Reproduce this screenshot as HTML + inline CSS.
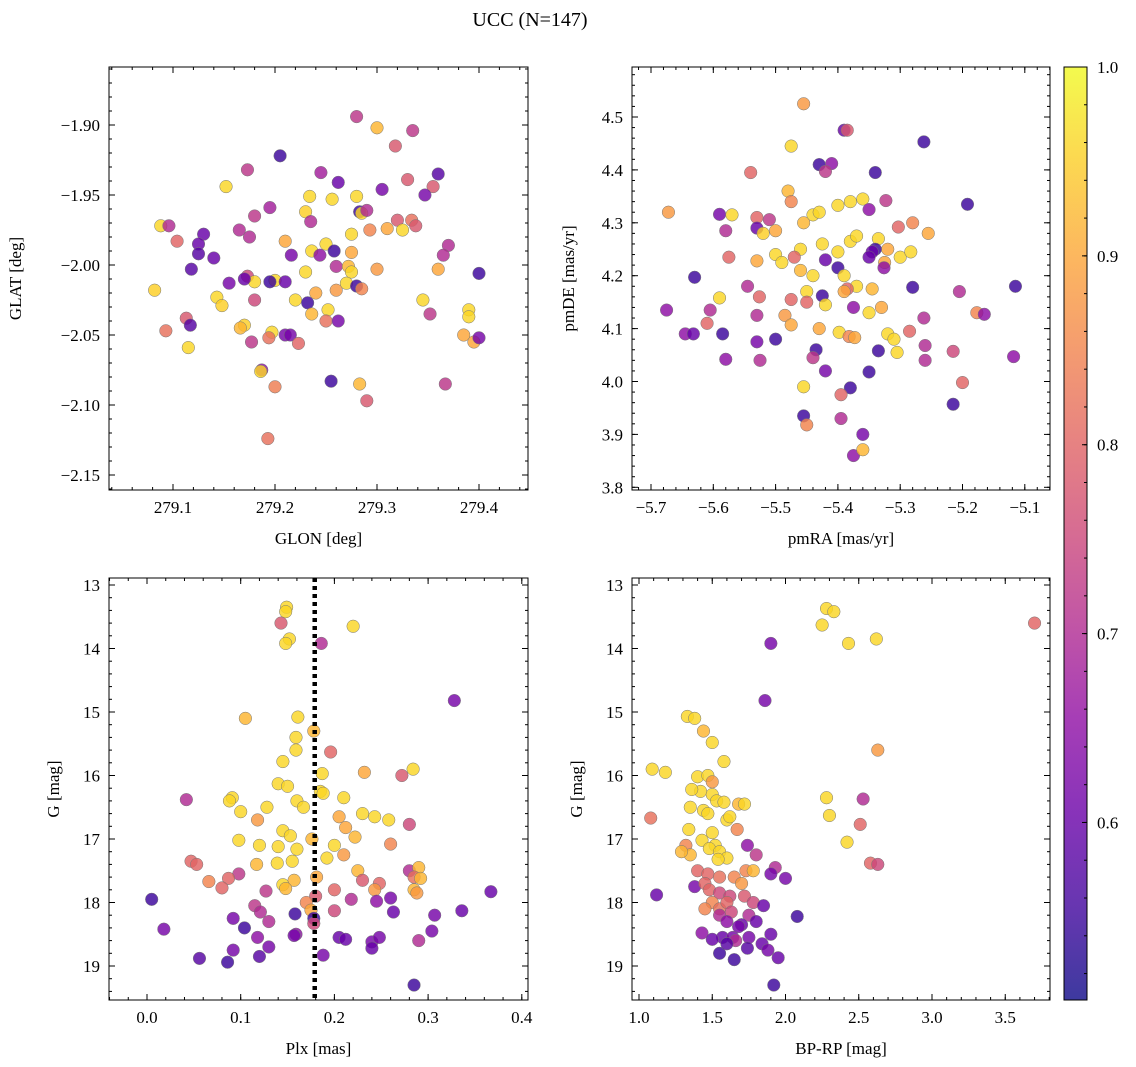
<!DOCTYPE html>
<html><head><meta charset="utf-8"><style>
body{margin:0;background:#fff}
svg{display:block;font-family:"Liberation Serif","DejaVu Serif",serif}
</style></head><body>
<svg id="fig" width="1136" height="1067" xmlns="http://www.w3.org/2000/svg">
<text x="530" y="26" text-anchor="middle" font-size="20">UCC (N=147)</text>
</svg>
<script>
// ---- data arrays: [x, y, membership probability] ----
const glonGlat = [[279.28,-1.894,.72],[279.30,-1.902,.92],[279.335,-1.904,.72],[279.205,-1.922,.55],[279.173,-1.932,.72],[279.318,-1.915,.78],[279.36,-1.935,.58],[279.245,-1.934,.68],[279.33,-1.939,.78],[279.355,-1.944,.78],[279.347,-1.950,.62],[279.305,-1.946,.62],[279.262,-1.941,.6],[279.152,-1.944,.96],[279.234,-1.951,.96],[279.256,-1.953,.96],[279.28,-1.951,.96],[279.23,-1.962,.95],[279.195,-1.959,.68],[279.283,-1.962,.55],[279.285,-1.963,.96],[279.29,-1.961,.7],[279.235,-1.969,.7],[279.18,-1.965,.72],[279.088,-1.972,.96],[279.096,-1.972,.7],[279.32,-1.968,.78],[279.334,-1.968,.82],[279.338,-1.972,.78],[279.325,-1.975,.96],[279.31,-1.974,.9],[279.293,-1.975,.85],[279.275,-1.978,.96],[279.165,-1.975,.7],[279.13,-1.978,.6],[279.104,-1.983,.8],[279.125,-1.985,.6],[279.175,-1.98,.7],[279.21,-1.983,.9],[279.25,-1.985,.96],[279.275,-1.991,.9],[279.258,-1.99,.55],[279.236,-1.99,.96],[279.244,-1.993,.65],[279.216,-1.993,.62],[279.14,-1.995,.6],[279.125,-1.992,.58],[279.37,-1.986,.7],[279.365,-1.993,.7],[279.173,-2.008,.75],[279.18,-2.012,.96],[279.2,-2.011,.96],[279.21,-2.012,.6],[279.23,-2.005,.96],[279.26,-2.001,.7],[279.272,-2.001,.92],[279.275,-2.005,.96],[279.3,-2.003,.88],[279.36,-2.003,.9],[279.4,-2.006,.55],[279.118,-2.003,.58],[279.155,-2.013,.62],[279.17,-2.01,.6],[279.195,-2.012,.55],[279.24,-2.02,.9],[279.26,-2.018,.88],[279.27,-2.013,.96],[279.28,-2.015,.55],[279.285,-2.017,.85],[279.143,-2.023,.96],[279.18,-2.025,.75],[279.22,-2.025,.96],[279.232,-2.027,.55],[279.252,-2.032,.96],[279.236,-2.035,.92],[279.25,-2.04,.82],[279.262,-2.04,.62],[279.148,-2.029,.95],[279.082,-2.018,.95],[279.113,-2.038,.78],[279.117,-2.043,.58],[279.17,-2.043,.95],[279.166,-2.045,.92],[279.197,-2.048,.96],[279.21,-2.05,.62],[279.215,-2.05,.62],[279.194,-2.052,.82],[279.223,-2.056,.8],[279.345,-2.025,.96],[279.352,-2.035,.72],[279.39,-2.032,.96],[279.39,-2.037,.96],[279.385,-2.05,.9],[279.395,-2.055,.9],[279.4,-2.052,.62],[279.093,-2.047,.82],[279.115,-2.059,.96],[279.177,-2.055,.72],[279.187,-2.075,.65],[279.186,-2.076,.96],[279.255,-2.083,.55],[279.283,-2.085,.92],[279.367,-2.085,.72],[279.2,-2.087,.84],[279.29,-2.097,.78],[279.193,-2.124,.82]];
const pmraPmde = [[-5.455,4.525,.88],[-5.39,4.475,.6],[-5.385,4.475,.78],[-5.262,4.453,.55],[-5.475,4.445,.96],[-5.43,4.41,.55],[-5.41,4.412,.65],[-5.42,4.397,.72],[-5.34,4.395,.55],[-5.54,4.395,.8],[-5.48,4.36,.92],[-5.475,4.34,.85],[-5.38,4.34,.96],[-5.36,4.345,.96],[-5.323,4.342,.72],[-5.192,4.335,.55],[-5.40,4.333,.96],[-5.672,4.32,.88],[-5.59,4.316,.62],[-5.57,4.315,.96],[-5.53,4.31,.8],[-5.51,4.306,.72],[-5.44,4.315,.96],[-5.43,4.32,.96],[-5.35,4.325,.65],[-5.28,4.30,.85],[-5.50,4.285,.9],[-5.455,4.3,.92],[-5.53,4.29,.6],[-5.58,4.285,.7],[-5.52,4.28,.95],[-5.255,4.28,.9],[-5.303,4.292,.8],[-5.335,4.27,.96],[-5.32,4.25,.9],[-5.34,4.25,.55],[-5.345,4.245,.6],[-5.38,4.265,.96],[-5.37,4.275,.96],[-5.425,4.26,.96],[-5.46,4.25,.96],[-5.50,4.24,.96],[-5.49,4.225,.96],[-5.40,4.245,.96],[-5.35,4.235,.6],[-5.30,4.235,.96],[-5.283,4.245,.96],[-5.325,4.225,.9],[-5.326,4.215,.65],[-5.575,4.235,.8],[-5.53,4.228,.9],[-5.63,4.197,.55],[-5.40,4.215,.55],[-5.39,4.2,.96],[-5.42,4.23,.6],[-5.44,4.2,.96],[-5.46,4.21,.92],[-5.47,4.235,.8],[-5.37,4.18,.96],[-5.385,4.175,.8],[-5.45,4.17,.96],[-5.45,4.15,.8],[-5.475,4.155,.8],[-5.545,4.18,.7],[-5.526,4.16,.8],[-5.59,4.158,.96],[-5.425,4.162,.55],[-5.39,4.17,.9],[-5.345,4.175,.92],[-5.28,4.178,.55],[-5.205,4.17,.7],[-5.375,4.14,.65],[-5.35,4.13,.96],[-5.33,4.14,.9],[-5.42,4.145,.96],[-5.485,4.125,.88],[-5.53,4.125,.7],[-5.605,4.135,.7],[-5.675,4.135,.65],[-5.61,4.11,.8],[-5.475,4.107,.9],[-5.43,4.10,.9],[-5.398,4.093,.96],[-5.382,4.085,.85],[-5.373,4.083,.9],[-5.32,4.09,.96],[-5.31,4.08,.96],[-5.285,4.095,.8],[-5.262,4.12,.7],[-5.177,4.13,.85],[-5.165,4.127,.65],[-5.115,4.18,.55],[-5.645,4.09,.65],[-5.632,4.09,.6],[-5.585,4.09,.55],[-5.53,4.075,.62],[-5.5,4.08,.55],[-5.58,4.042,.65],[-5.525,4.04,.7],[-5.435,4.06,.55],[-5.44,4.045,.72],[-5.335,4.058,.55],[-5.305,4.055,.96],[-5.26,4.068,.7],[-5.26,4.04,.7],[-5.215,4.057,.75],[-5.118,4.047,.65],[-5.42,4.02,.62],[-5.35,4.018,.55],[-5.455,3.99,.96],[-5.38,3.988,.55],[-5.395,3.975,.8],[-5.2,3.998,.8],[-5.215,3.957,.55],[-5.455,3.935,.55],[-5.395,3.93,.7],[-5.45,3.918,.85],[-5.36,3.9,.62],[-5.375,3.86,.65],[-5.36,3.871,.92]];
const plxG = [[0.149,13.35,.96],[0.148,13.42,.96],[0.143,13.6,.78],[0.22,13.65,.96],[0.152,13.85,.96],[0.148,13.92,.96],[0.186,13.92,.7],[0.328,14.82,.62],[0.105,15.1,.92],[0.161,15.08,.96],[0.159,15.4,.96],[0.178,15.3,.92],[0.159,15.6,.96],[0.196,15.63,.8],[0.145,15.78,.96],[0.187,15.97,.96],[0.232,15.95,.9],[0.284,15.9,.96],[0.272,16.0,.78],[0.042,16.38,.7],[0.091,16.35,.96],[0.088,16.4,.96],[0.14,16.13,.96],[0.15,16.17,.96],[0.185,16.25,.96],[0.188,16.28,.96],[0.21,16.35,.96],[0.16,16.4,.96],[0.167,16.5,.96],[0.128,16.5,.96],[0.1,16.57,.96],[0.243,16.65,.96],[0.258,16.7,.96],[0.23,16.6,.96],[0.205,16.65,.9],[0.28,16.77,.75],[0.118,16.7,.88],[0.145,16.87,.96],[0.212,16.82,.9],[0.153,16.95,.96],[0.222,16.97,.92],[0.26,17.08,.85],[0.098,17.02,.96],[0.176,17.0,.92],[0.12,17.1,.96],[0.14,17.12,.96],[0.16,17.16,.96],[0.2,17.1,.96],[0.192,17.3,.96],[0.21,17.25,.88],[0.047,17.35,.8],[0.053,17.4,.8],[0.117,17.4,.92],[0.139,17.38,.96],[0.155,17.35,.96],[0.225,17.5,.92],[0.28,17.5,.7],[0.29,17.45,.92],[0.285,17.6,.82],[0.292,17.62,.92],[0.098,17.55,.72],[0.087,17.62,.8],[0.08,17.77,.8],[0.066,17.67,.85],[0.157,17.65,.92],[0.181,17.6,.9],[0.248,17.7,.8],[0.23,17.65,.78],[0.243,17.8,.88],[0.285,17.8,.92],[0.288,17.85,.88],[0.127,17.82,.72],[0.2,17.8,.8],[0.145,17.72,.96],[0.148,17.78,.92],[0.005,17.95,.55],[0.18,17.9,.78],[0.26,17.93,.62],[0.245,17.98,.65],[0.218,17.95,.7],[0.17,18.0,.85],[0.115,18.05,.72],[0.121,18.15,.7],[0.158,18.18,.55],[0.175,18.12,.9],[0.178,18.25,.55],[0.178,18.33,.75],[0.2,18.13,.75],[0.263,18.15,.6],[0.307,18.2,.62],[0.336,18.13,.6],[0.367,17.83,.6],[0.092,18.25,.62],[0.13,18.3,.7],[0.018,18.42,.62],[0.104,18.4,.55],[0.118,18.55,.65],[0.159,18.5,.65],[0.157,18.52,.62],[0.205,18.55,.6],[0.212,18.58,.6],[0.24,18.62,.62],[0.248,18.55,.62],[0.29,18.6,.7],[0.304,18.45,.62],[0.13,18.7,.62],[0.092,18.75,.62],[0.24,18.72,.6],[0.12,18.85,.58],[0.056,18.88,.58],[0.086,18.94,.55],[0.188,18.83,.62],[0.285,19.3,.55]];
const bprpG = [[2.28,13.37,.96],[2.33,13.42,.96],[2.25,13.63,.96],[2.62,13.85,.96],[2.43,13.92,.96],[3.7,13.6,.8],[1.9,13.92,.62],[1.86,14.82,.62],[1.33,15.07,.96],[1.38,15.1,.96],[1.44,15.3,.92],[1.5,15.48,.96],[1.58,15.78,.96],[2.63,15.6,.88],[1.09,15.9,.96],[1.18,15.95,.96],[1.4,16.02,.96],[1.47,16.0,.96],[1.5,16.1,.88],[1.42,16.25,.96],[1.5,16.3,.96],[1.36,16.22,.96],[2.28,16.35,.96],[2.53,16.37,.7],[1.53,16.4,.96],[1.58,16.42,.96],[1.68,16.45,.92],[1.72,16.45,.96],[1.35,16.5,.96],[1.44,16.55,.96],[1.47,16.6,.96],[1.6,16.7,.96],[1.62,16.65,.96],[2.3,16.63,.96],[1.08,16.67,.82],[1.34,16.85,.96],[1.5,16.9,.96],[1.67,16.85,.85],[2.51,16.77,.8],[1.43,17.02,.96],[1.52,17.1,.96],[1.74,17.1,.65],[1.8,17.25,.72],[2.42,17.05,.96],[1.32,17.1,.85],[1.48,17.15,.96],[1.55,17.2,.96],[1.6,17.3,.96],[1.35,17.25,.92],[1.29,17.2,.92],[1.54,17.32,.96],[2.58,17.38,.8],[2.63,17.4,.75],[1.93,17.45,.7],[1.73,17.5,.85],[1.78,17.5,.92],[1.4,17.5,.8],[1.47,17.55,.8],[1.55,17.6,.82],[1.65,17.6,.85],[1.7,17.7,.88],[1.9,17.55,.62],[2.0,17.62,.62],[1.12,17.88,.6],[1.38,17.75,.62],[1.45,17.7,.8],[1.48,17.8,.8],[1.55,17.85,.75],[1.62,17.9,.75],[1.5,18.0,.85],[1.45,18.1,.85],[1.55,18.1,.82],[1.6,18.0,.8],[1.72,17.9,.78],[1.78,18.0,.75],[1.85,18.05,.6],[1.55,18.2,.7],[1.63,18.15,.75],[1.75,18.2,.7],[1.8,18.3,.6],[1.6,18.3,.65],[1.7,18.35,.6],[2.08,18.22,.55],[1.43,18.48,.65],[1.57,18.55,.6],[1.64,18.55,.62],[1.66,18.6,.7],[1.75,18.55,.62],[1.9,18.5,.6],[1.84,18.65,.6],[1.74,18.72,.58],[1.88,18.75,.62],[1.55,18.8,.55],[1.65,18.9,.55],[1.95,18.87,.6],[1.92,19.3,.55],[1.5,18.58,.6],[1.68,18.38,.62],[1.6,18.65,.58]];
const plxMedian = 0.179;
const p1xTicks=[279.1,279.2,279.3,279.4], p1yTicks=[-1.90,-1.95,-2.00,-2.05,-2.10,-2.15];
const p2xTicks=[-5.7,-5.6,-5.5,-5.4,-5.3,-5.2,-5.1], p2yTicks=[3.8,3.9,4.0,4.1,4.2,4.3,4.4,4.5];
const p3xTicks=[0.0,0.1,0.2,0.3,0.4], gTicks=[13,14,15,16,17,18,19];
const p4xTicks=[1.0,1.5,2.0,2.5,3.0,3.5];
const cbTicks=[0.6,0.7,0.8,0.9,1.0];
const cbMin=0.506, cbMax=1.0;

const NS="http://www.w3.org/2000/svg";
const svg=document.getElementById('fig');
function mk(tag,attrs,parent){const e=document.createElementNS(NS,tag);for(const k in attrs)e.setAttribute(k,attrs[k]);(parent||svg).appendChild(e);return e;}
const stops=["#0d0887","#41049d","#6a00a8","#8f0da4","#b12a90","#cc4778","#e16462","#f2844b","#fca636","#fcce25","#f0f921"];
function hex(h){return [1,3,5].map(i=>parseInt(h.substr(i,2),16));}
function plasma(t){t=Math.max(0,Math.min(1,t));const f=t*10,i=Math.min(9,Math.floor(f)),r=f-i;const a=hex(stops[i]),b=hex(stops[i+1]);return 'rgb('+a.map((v,k)=>Math.round(v+(b[k]-v)*r)).join(',')+')';}
function fmt(v,d){return (v<0?'\u2212':'')+Math.abs(v).toFixed(d);}

function panel(c){
  const g=mk('g',{});
  
  
  const sx=v=>c.x0+(v-c.xd[0])/(c.xd[1]-c.xd[0])*(c.x1-c.x0);
  const sy=v=>c.y0+(v-c.yd[0])/(c.yd[1]-c.yd[0])*(c.y1-c.y0);
  const clip='clip-'+c.name;
  const cp=mk('clipPath',{id:clip},g);mk('rect',{x:c.x0,y:c.y0,width:c.x1-c.x0,height:c.y1-c.y0},cp);
  const pts=mk('g',{'clip-path':'url(#'+clip+')'},g);
  c.data.forEach(d=>{
    const e=mk('circle',{cx:sx(d[0]),cy:sy(d[1]),r:6.3,fill:plasma((d[2]-cbMin)/(cbMax-cbMin)),'fill-opacity':0.82,stroke:'#777','stroke-width':0.5},pts);
    
    
  });
  if(c.vline!==undefined){
    const l=mk('line',{x1:sx(c.vline),x2:sx(c.vline),y1:c.y0,y2:c.y1,stroke:'#000','stroke-width':4.5,'stroke-dasharray':'4,4'},g);
    
    
  }
  const fr=mk('rect',{x:c.x0,y:c.y0,width:c.x1-c.x0,height:c.y1-c.y0,fill:'none',stroke:'#000','stroke-width':1},g);
  
  
  const tk=mk('g',{stroke:'#000','stroke-width':1},g);
  const xlo=Math.min(...c.xd),xhi=Math.max(...c.xd),ylo=Math.min(...c.yd),yhi=Math.max(...c.yd);
  for(let v=Math.ceil(xlo/c.xm)*c.xm;v<=xhi;v+=c.xm){const x=sx(v);mk('line',{x1:x,x2:x,y1:c.y1,y2:c.y1-3},tk);mk('line',{x1:x,x2:x,y1:c.y0,y2:c.y0+3},tk);}
  for(let v=Math.ceil(ylo/c.ym)*c.ym;v<=yhi;v+=c.ym){const y=sy(v);mk('line',{x1:c.x0,x2:c.x0+3,y1:y,y2:y},tk);mk('line',{x1:c.x1,x2:c.x1-3,y1:y,y2:y},tk);}
  c.xt.forEach(v=>{const x=sx(v);mk('line',{x1:x,x2:x,y1:c.y1,y2:c.y1-6},tk);mk('line',{x1:x,x2:x,y1:c.y0,y2:c.y0+6},tk);
    const t=mk('text',{x:x,y:c.y1+23,'text-anchor':'middle','font-size':17},g);t.textContent=fmt(v,c.xdp);
    });
  c.yt.forEach(v=>{const y=sy(v);mk('line',{x1:c.x0,x2:c.x0+6,y1:y,y2:y},tk);mk('line',{x1:c.x1,x2:c.x1-6,y1:y,y2:y},tk);
    const t=mk('text',{x:c.x0-9,y:y+6,'text-anchor':'end','font-size':17},g);t.textContent=fmt(v,c.ydp);
    });
  const xl=mk('text',{x:(c.x0+c.x1)/2,y:c.y1+54,'text-anchor':'middle','font-size':17},g);xl.textContent=c.xl;
  
  const yx=c.x0-c.ylo, ym=(c.y0+c.y1)/2;
  const yl=mk('text',{x:yx,y:ym,'text-anchor':'middle','font-size':17,transform:'rotate(-90 '+yx+' '+ym+')'},g);yl.textContent=c.yl;
  
}
panel({name:'glon-glat-panel',x0:109,x1:528,y0:67,y1:490,xd:[279.1-64/1020,279.1+355/1020],yd:[-1.90+58/1400,-1.90-(490-125)/1400],
  xt:p1xTicks,yt:p1yTicks,xm:0.02,ym:0.01,xdp:1,ydp:2,data:glonGlat,xl:'GLON [deg]',yl:'GLAT [deg]',ylo:88});
panel({name:'pm-panel',x0:632,x1:1050,y0:67,y1:490,xd:[-5.7-19/623,-5.7+399/623],yd:[4.5+50/529,4.5-(490-117)/529],
  xt:p2xTicks,yt:p2yTicks,xm:0.02,ym:0.02,xdp:1,ydp:1,data:pmraPmde,xl:'pmRA [mas/yr]',yl:'pmDE [mas/yr]',ylo:58});
panel({name:'plx-g-panel',x0:109,x1:528,y0:578,y1:1000,xd:[-38/937,381/937],yd:[13-7/63.5,13+(1000-585)/63.5],
  xt:p3xTicks,yt:gTicks,xm:0.02,ym:0.2,xdp:1,ydp:0,data:plxG,xl:'Plx [mas]',yl:'G [mag]',ylo:50,vline:plxMedian});
panel({name:'bprp-g-panel',x0:632,x1:1050,y0:578,y1:1000,xd:[1.0-7/146.5,1.0+(1050-639)/146.5],yd:[13-7/63.5,13+(1000-585)/63.5],
  xt:p4xTicks,yt:gTicks,xm:0.1,ym:0.2,xdp:1,ydp:0,data:bprpG,xl:'BP-RP [mag]',yl:'G [mag]',ylo:50});

// colorbar
const cb=mk('g',{});


const defs=mk('defs',{},cb);const lg=mk('linearGradient',{id:'cbg',x1:0,y1:1,x2:0,y2:0},defs);
stops.forEach((s,i)=>mk('stop',{offset:i/10,'stop-color':s},lg));
const cbx0=1064,cbx1=1087,cby0=67,cby1=1000;
mk('rect',{x:cbx0,y:cby0,width:cbx1-cbx0,height:cby1-cby0,fill:'url(#cbg)','fill-opacity':0.8},cb);
mk('rect',{x:cbx0,y:cby0,width:cbx1-cbx0,height:cby1-cby0,fill:'none',stroke:'#000'},cb);
const cby=v=>cby1-(v-cbMin)/(cbMax-cbMin)*(cby1-cby0);
for(let v=0.52;v<=1.0001;v+=0.02){mk('line',{x1:cbx1,x2:cbx1-3,y1:cby(v),y2:cby(v),stroke:'#000'},cb);}
cbTicks.forEach(v=>{mk('line',{x1:cbx1,x2:cbx1-5,y1:cby(v),y2:cby(v),stroke:'#000'},cb);
  const t=mk('text',{x:cbx1+10,y:cby(v)+6,'font-size':17},cb);t.textContent=v.toFixed(1);
  });
</script>
</body></html>
